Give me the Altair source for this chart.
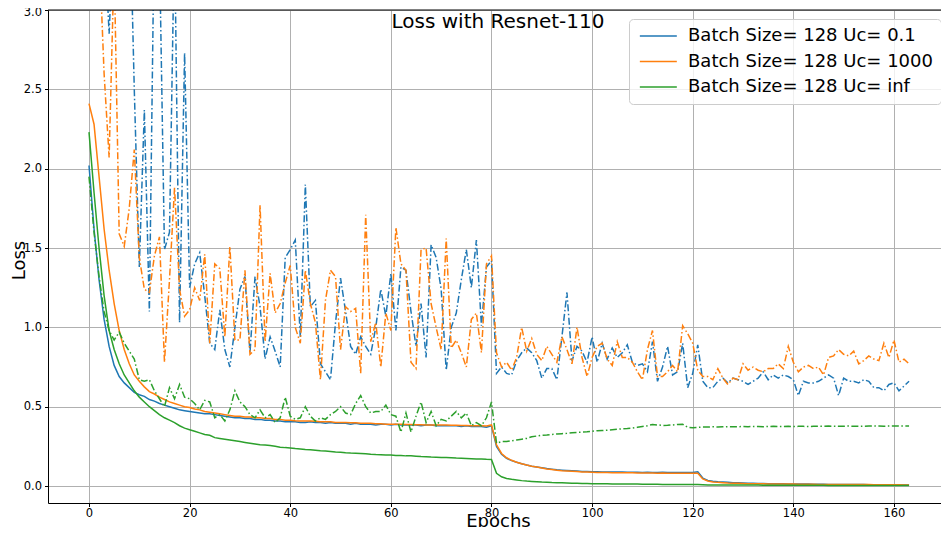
import altair as alt
import pandas as pd

epochs = list(range(164))
labels = ["Batch Size= 128 Uc= 0.1", "Batch Size= 128 Uc= 1000", "Batch Size= 128 Uc= inf"]
colors = ["#1f77b4", "#ff7f0e", "#2ca02c"]
x_ticks = [0, 20, 40, 60, 80, 100, 120, 140, 160]
y_ticks = [0.0, 0.5, 1.0, 1.5, 2.0, 2.5, 3.0]
y_top = [3.0]
title_text = ["Loss with Resnet-110"]

train_01 = [
    2.02, 1.62, 1.30, 1.05, 0.88, 0.76, 0.69, 0.65, 0.62, 0.59, 0.575,
    0.565, 0.545, 0.535, 0.52, 0.51, 0.50, 0.49, 0.48, 0.475, 0.47,
    0.465, 0.46, 0.455, 0.455, 0.45, 0.445, 0.44, 0.435, 0.43, 0.43,
    0.425, 0.425, 0.42, 0.42, 0.415, 0.415, 0.41, 0.41, 0.405, 0.405,
    0.405, 0.40, 0.40, 0.405, 0.40, 0.40, 0.395, 0.40, 0.395, 0.395,
    0.395, 0.39, 0.395, 0.39, 0.39, 0.39, 0.385, 0.39, 0.39, 0.385,
    0.39, 0.385, 0.385, 0.385, 0.385, 0.38, 0.385, 0.385, 0.38, 0.38,
    0.38, 0.38, 0.38, 0.375, 0.38, 0.375, 0.375, 0.375, 0.37, 0.38,
    0.25, 0.20, 0.175, 0.16, 0.15, 0.14, 0.132, 0.125, 0.12, 0.115,
    0.11, 0.106, 0.102, 0.1, 0.098, 0.096, 0.094, 0.092, 0.091, 0.09,
    0.09, 0.089, 0.089, 0.088, 0.088, 0.088, 0.087, 0.087, 0.087, 0.086,
    0.087, 0.086, 0.086, 0.087, 0.086, 0.086, 0.085, 0.086, 0.086, 0.086,
    0.09, 0.05, 0.035, 0.03, 0.027, 0.025, 0.023, 0.021, 0.02, 0.019,
    0.018, 0.017, 0.016, 0.016, 0.015, 0.015, 0.014, 0.014, 0.013, 0.013,
    0.012, 0.012, 0.012, 0.011, 0.011, 0.011, 0.01, 0.01, 0.01, 0.01,
    0.009, 0.009, 0.009, 0.009, 0.008, 0.008, 0.008, 0.008, 0.008, 0.007,
    0.007, 0.007, 0.007,
]

train_1000 = [
    2.41, 2.28, 1.95, 1.62, 1.36, 1.15, 0.98, 0.86, 0.77, 0.70, 0.66,
    0.625, 0.595, 0.58, 0.56, 0.545, 0.53, 0.52, 0.51, 0.50, 0.495,
    0.485, 0.48, 0.47, 0.465, 0.46, 0.455, 0.45, 0.445, 0.44, 0.44,
    0.435, 0.435, 0.43, 0.43, 0.425, 0.425, 0.42, 0.42, 0.415, 0.415,
    0.412, 0.41, 0.41, 0.41, 0.408, 0.405, 0.405, 0.405, 0.40, 0.40,
    0.40, 0.398, 0.398, 0.395, 0.395, 0.395, 0.393, 0.392, 0.39, 0.39,
    0.39, 0.39, 0.388, 0.388, 0.386, 0.386, 0.385, 0.385, 0.385, 0.384,
    0.384, 0.383, 0.383, 0.382, 0.382, 0.38, 0.38, 0.38, 0.378, 0.385,
    0.26, 0.205, 0.178, 0.162, 0.15, 0.14, 0.132, 0.125, 0.12, 0.114,
    0.108, 0.104, 0.1, 0.097, 0.095, 0.093, 0.091, 0.089, 0.088, 0.087,
    0.086, 0.085, 0.085, 0.084, 0.084, 0.083, 0.083, 0.083, 0.082, 0.082,
    0.082, 0.082, 0.081, 0.082, 0.081, 0.081, 0.081, 0.081, 0.081, 0.081,
    0.08, 0.045, 0.032, 0.026, 0.023, 0.021, 0.019, 0.018, 0.017, 0.016,
    0.015, 0.015, 0.014, 0.014, 0.013, 0.013, 0.013, 0.012, 0.012, 0.012,
    0.011, 0.011, 0.011, 0.011, 0.01, 0.01, 0.01, 0.01, 0.01, 0.009,
    0.009, 0.009, 0.009, 0.009, 0.009, 0.008, 0.008, 0.008, 0.008, 0.008,
    0.008, 0.007, 0.007,
]

train_inf = [
    2.23, 1.85, 1.50, 1.20, 0.98, 0.86, 0.77, 0.70, 0.65, 0.60, 0.56,
    0.53, 0.50, 0.475, 0.45, 0.43, 0.415, 0.40, 0.38, 0.365, 0.355,
    0.345, 0.335, 0.325, 0.32, 0.305, 0.30, 0.295, 0.29, 0.285, 0.28,
    0.275, 0.27, 0.265, 0.26, 0.258, 0.255, 0.25, 0.245, 0.242, 0.24,
    0.236, 0.233, 0.23, 0.228, 0.225, 0.222, 0.22, 0.218, 0.215, 0.213,
    0.21, 0.208, 0.207, 0.205, 0.203, 0.2, 0.198, 0.197, 0.196, 0.195,
    0.193, 0.192, 0.19, 0.19, 0.188, 0.186, 0.185, 0.183, 0.182, 0.18,
    0.18, 0.178, 0.176, 0.175, 0.174, 0.172, 0.17, 0.17, 0.168, 0.167,
    0.08, 0.058, 0.048, 0.042, 0.038, 0.034, 0.031, 0.029, 0.027, 0.025,
    0.024, 0.022, 0.021, 0.02, 0.019, 0.018, 0.017, 0.016, 0.016, 0.015,
    0.015, 0.014, 0.014, 0.013, 0.013, 0.013, 0.012, 0.012, 0.012, 0.011,
    0.011, 0.011, 0.011, 0.01, 0.01, 0.01, 0.01, 0.01, 0.01, 0.01,
    0.009, 0.008, 0.007, 0.007, 0.007, 0.007, 0.006, 0.006, 0.006, 0.006,
    0.006, 0.006, 0.006, 0.005, 0.005, 0.005, 0.005, 0.005, 0.005, 0.005,
    0.005, 0.005, 0.005, 0.005, 0.005, 0.005, 0.004, 0.004, 0.004, 0.004,
    0.004, 0.004, 0.004, 0.004, 0.004, 0.004, 0.004, 0.004, 0.004, 0.004,
    0.004, 0.004, 0.004,
]

test_01 = [
    6.0, 5.0, 4.2, 3.5, 2.85, 3.6, 4.0, 4.5, 3.8, 2.5, 1.38,
    2.37, 1.10, 3.6, 3.4, 1.49, 1.6, 3.5, 1.03, 2.73, 1.25,
    1.40, 1.47, 1.20, 0.90, 0.86, 1.11, 0.86, 0.75, 1.00, 1.24,
    1.32, 0.84, 1.32, 1.13, 0.80, 0.94, 0.85, 0.75, 1.44, 1.49,
    1.55, 0.94, 1.90, 1.13, 1.17, 0.77, 0.72, 0.67, 1.03, 1.31,
    1.10, 0.88, 0.83, 0.94, 0.88, 0.83, 1.00, 1.24, 1.07, 1.34,
    0.98, 1.38, 1.36, 1.10, 0.88, 1.15, 0.81, 1.52, 1.44, 1.24,
    0.73, 1.00, 1.09, 1.30, 1.49, 1.25, 1.55, 1.01, 1.38, 1.42,
    0.71, 0.75, 0.71, 0.70, 0.79, 0.84, 0.87, 0.84, 0.79, 0.68,
    0.74, 0.74, 0.67, 0.94, 1.22, 0.79, 0.88, 0.85, 0.78, 0.94,
    0.78, 0.90, 0.80, 0.87, 0.81, 0.84, 0.89, 0.78, 0.76, 0.77,
    0.72, 0.91, 0.66, 0.75, 0.88, 0.70, 0.72, 0.90, 0.62, 0.71,
    0.89, 0.66, 0.62, 0.62, 0.66, 0.68, 0.65, 0.68, 0.67, 0.66,
    0.64, 0.66, 0.68, 0.72, 0.67, 0.70, 0.68, 0.70, 0.69, 0.67,
    0.57, 0.66, 0.65, 0.65, 0.66, 0.68, 0.70, 0.68, 0.57, 0.68,
    0.66, 0.66, 0.65, 0.67, 0.66, 0.62, 0.62, 0.60, 0.64, 0.65,
    0.60, 0.63, 0.66,
]

test_1000 = [
    5.0, 4.2, 3.4, 2.6, 2.07, 3.3, 1.59, 1.51, 1.75, 2.12, 1.44,
    1.24, 1.22, 1.45, 1.57, 0.78, 1.30, 1.88, 1.24, 1.07, 1.11,
    1.25, 1.17, 1.46, 0.90, 1.40, 1.37, 0.94, 1.51, 0.92, 0.92,
    1.36, 0.83, 0.86, 1.77, 0.91, 1.34, 1.09, 1.15, 1.28, 1.39,
    1.00, 0.90, 1.36, 1.15, 1.03, 0.67, 1.17, 1.36, 1.32, 0.86,
    1.13, 1.10, 1.12, 0.71, 1.71, 0.91, 1.03, 0.75, 1.09, 0.98,
    1.63, 1.40, 1.36, 0.78, 0.74, 1.49, 1.50, 1.15, 1.00, 0.86,
    1.56, 0.87, 0.92, 0.84, 0.75, 1.05, 1.09, 0.84, 1.40, 1.45,
    0.84, 0.75, 0.78, 0.73, 0.81, 1.00, 0.85, 0.93, 0.83, 0.79,
    0.88, 0.83, 0.78, 0.94, 0.86, 0.77, 1.00, 0.81, 0.69, 0.81,
    0.88, 0.90, 0.80, 0.76, 0.91, 0.81, 0.81, 0.78, 0.72, 0.67,
    0.86, 0.98, 0.69, 0.69, 0.72, 0.76, 0.72, 1.01, 0.96, 0.90,
    0.73, 0.69, 0.69, 0.67, 0.74, 0.68, 0.64, 0.68, 0.67, 0.77,
    0.73, 0.75, 0.73, 0.72, 0.74, 0.74, 0.77, 0.74, 0.88, 0.78,
    0.72, 0.75, 0.76, 0.74, 0.75, 0.70, 0.81, 0.82, 0.86, 0.83,
    0.82, 0.85, 0.77, 0.79, 0.82, 0.80, 0.79, 0.90, 0.81, 0.92,
    0.78, 0.80, 0.77,
]

test_inf = [
    1.95, 1.60, 1.32, 1.10, 0.98, 0.92, 0.97, 0.90, 0.85, 0.80, 0.67,
    0.66, 0.67, 0.60, 0.55, 0.50, 0.62, 0.55, 0.64, 0.56, 0.55,
    0.52, 0.48, 0.54, 0.53, 0.43, 0.45, 0.41, 0.48, 0.60, 0.53,
    0.50, 0.45, 0.43, 0.48, 0.43, 0.45, 0.40, 0.43, 0.56, 0.44,
    0.42, 0.43, 0.50, 0.44, 0.41, 0.43, 0.42, 0.45, 0.47, 0.50,
    0.46, 0.45, 0.52, 0.57, 0.50, 0.46, 0.47, 0.47, 0.51, 0.45,
    0.44, 0.34, 0.46, 0.34, 0.44, 0.53, 0.40, 0.47, 0.38, 0.42,
    0.41, 0.44, 0.47, 0.43, 0.46, 0.38, 0.40, 0.38, 0.43, 0.53,
    0.27, 0.28, 0.28, 0.285, 0.29, 0.295, 0.30, 0.31, 0.315, 0.32,
    0.322, 0.325, 0.328, 0.33, 0.332, 0.335, 0.338, 0.34, 0.342, 0.345,
    0.348, 0.35, 0.352, 0.355, 0.358, 0.36, 0.362, 0.365, 0.37, 0.375,
    0.38, 0.388, 0.385, 0.382, 0.383, 0.385, 0.388, 0.39, 0.37, 0.368,
    0.37, 0.372, 0.372, 0.373, 0.372, 0.373, 0.374, 0.373, 0.374, 0.375,
    0.374, 0.375, 0.375, 0.374, 0.375, 0.376, 0.375, 0.375, 0.376, 0.375,
    0.376, 0.376, 0.375, 0.376, 0.377, 0.376, 0.378, 0.377, 0.376, 0.377,
    0.378, 0.377, 0.376, 0.377, 0.378, 0.379, 0.378, 0.377, 0.378, 0.379,
    0.378, 0.378, 0.378,
]

train_series = [train_01, train_1000, train_inf]
test_series = [test_01, test_1000, test_inf]

rows = []
for lab, col, tr, te in zip(labels, colors, train_series, test_series):
    for e, a, b in zip(epochs, tr, te):
        rows.append({"epoch": e, "series": lab, "hex": col, "train": a, "test": b})
df = pd.DataFrame(rows)

FONT = "DejaVu Sans"
x_scale = alt.Scale(domain=[-8.15, 169.35], nice=False, zero=False)
y_scale = alt.Scale(domain=[-0.107, 3.0], nice=False, zero=False)

x_axis = alt.Axis(values=x_ticks, title="Epochs", titleFontSize=18, titleFont=FONT,
                  titleFontWeight="normal", titleColor="black",
                  titleX=450, titleY=23, titleBaseline="alphabetic", titleAnchor="middle",
                  labelFontSize=11.5, labelFont=FONT, labelColor="black", labelPadding=0.5,
                  tickSize=3.5, tickColor="black",
                  domain=True, domainColor="black", domainWidth=1,
                  grid=True, gridColor="#b0b0b0", gridWidth=1)
y_axis = alt.Axis(values=y_ticks, format=".1f", title="Loss", titleFontSize=18, titleFont=FONT,
                  titleFontWeight="normal", titleColor="black",
                  titleX=-24, titleY=250, titleBaseline="alphabetic", titleAngle=270,
                  titleAlign="center",
                  labelFontSize=11.5, labelFont=FONT, labelColor="black", labelPadding=3,
                  labelOffset={"condition": {"test": "datum.value >= 3", "value": 2.5}, "value": 0},
                  tickSize=3.5, tickColor="black",
                  domain=True, domainColor="black", domainWidth=1,
                  grid=True, gridColor="#b0b0b0", gridWidth=1)

legend = alt.Legend(title=None, orient="none", legendX=581, legendY=9, direction="vertical",
                    symbolType="M-1,0H5", symbolSize=152, symbolStrokeWidth=1.5,
                    labelFontSize=18, labelFont=FONT, labelColor="black", labelOffset=33,
                    labelLimit=400, padding=8, rowPadding=7.5,
                    fillColor="rgba(255,255,255,0.8)", strokeColor="#cccccc", cornerRadius=4)

color_train = alt.Color("series:N", scale=alt.Scale(domain=labels, range=colors), legend=legend)

layers = []
for i, lab in enumerate(labels):
    base = alt.Chart(df).transform_filter(alt.datum.series == lab)
    tr = base.mark_line(strokeWidth=1.5, clip=True).encode(
        x=alt.X("epoch:Q", scale=x_scale, axis=x_axis),
        y=alt.Y("train:Q", scale=y_scale, axis=y_axis),
        color=color_train,
    )
    te = base.mark_line(strokeWidth=1.5, clip=True, strokeDash=[7, 2.5, 1.5, 2.5]).encode(
        x=alt.X("epoch:Q", scale=x_scale, axis=x_axis),
        y=alt.Y("test:Q", scale=y_scale, axis=y_axis),
        color=alt.Color("hex:N", scale=None),
    )
    layers += [tr, te]

top_spine = alt.Chart(pd.DataFrame({"top": y_top})).mark_rule(color="black", strokeWidth=1).encode(
    y=alt.Y("top:Q", scale=y_scale, axis=y_axis)
)
layers.append(top_spine)

title_mark = alt.Chart(pd.DataFrame({"t": title_text})).mark_text(
    font=FONT, fontSize=20, color="black", align="center", baseline="alphabetic"
).encode(x=alt.value(450), y=alt.value(18), text="t:N")
layers.append(title_mark)

chart = alt.layer(*layers).properties(
    width=893, height=493,
    autosize=alt.AutoSizeParams(type="none"),
    padding={"left": 40, "top": 2, "right": 0, "bottom": 24},
).configure(background="white", view=alt.ViewConfig(stroke=None))

chart.save("out.html", embed_options={"renderer": "svg", "actions": False})
